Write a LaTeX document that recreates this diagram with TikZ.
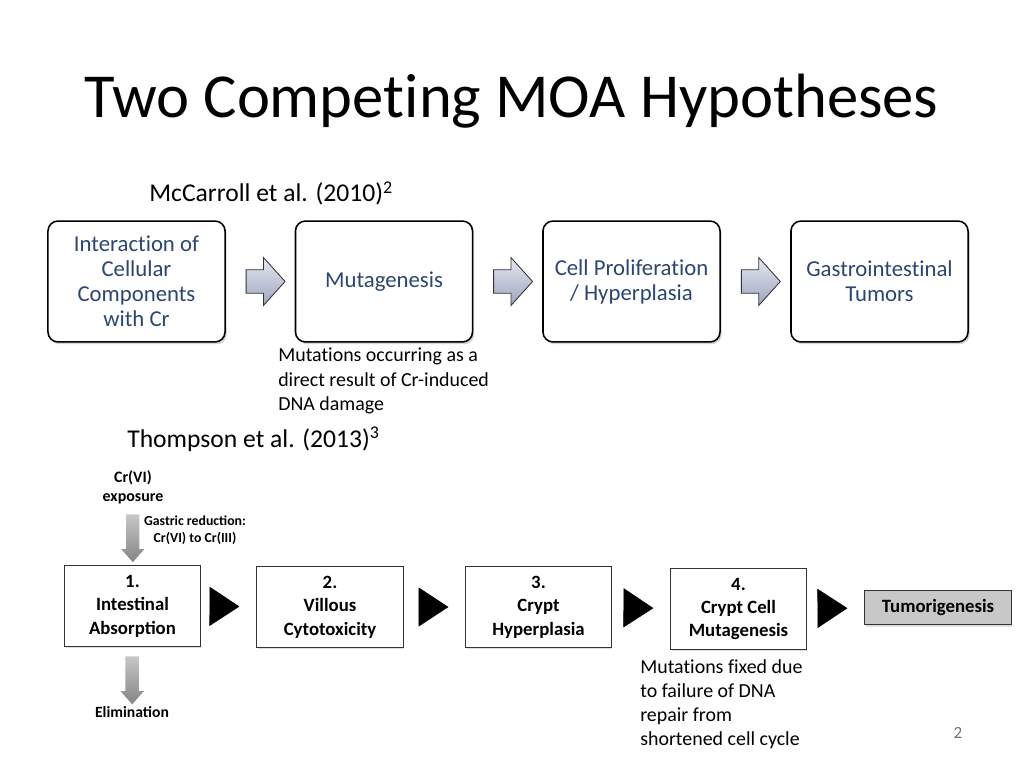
\documentclass[tikz,border=0pt]{standalone}
\usepackage{fontspec}
\setmainfont{Carlito}[Ligatures=NoCommon]
\newfontfamily\stepfont{Carlito}
\usetikzlibrary{shapes.arrows,shadows,arrows.meta}
\definecolor{boxblue}{RGB}{44,70,112}
\definecolor{arrowtop}{RGB}{228,231,242}
\definecolor{arrowbot}{RGB}{158,166,190}
\definecolor{tumorgrey}{RGB}{200,200,200}

\begin{document}
\begin{tikzpicture}[x=0.703125pt, y=-0.703125pt,
    topbox/.style={draw, rounded corners=7pt, line width=1.1pt, fill=white,
      minimum width=124.5pt, minimum height=85pt, align=center, text=boxblue,
      font=\fontsize{16}{17.6}\selectfont,
      drop shadow={shadow xshift=1.2pt, shadow yshift=-1.6pt, opacity=0.35}},
    stepbox/.style={draw=black!80, line width=0.7pt, fill=white, minimum height=57pt,
      align=center, font=\stepfont\fontsize{13.2}{16.5}\selectfont\bfseries,
      drop shadow={shadow xshift=1pt, shadow yshift=-1.2pt, opacity=0.25}},
    blockarrow/.style={single arrow, draw=black!80, line width=0.6pt,
      top color=arrowtop, bottom color=arrowbot, minimum height=27.4pt,
      minimum width=33pt, single arrow head extend=8.5pt,
      single arrow tip angle=96, inner xsep=0pt, inner ysep=8pt},
    greyarrow/.style={single arrow, shape border rotate=270, draw=none,
      top color=black!22, bottom color=black!48, minimum height=33.7pt,
      minimum width=16pt, single arrow head extend=3.5pt,
      single arrow tip angle=83, inner sep=4.5pt},
    stepto/.style={-{Triangle[length=21pt,width=27.5pt]}, shorten <=15pt, shorten >=12pt},
    note/.style={anchor=north west, align=left, inner sep=0pt, font=\fontsize{14}{16.9}\selectfont},
    label/.style={inner sep=0pt, align=center},
  ]
  \path[use as bounding box] (0,0) rectangle (1024,768);

  % Title
  \node[anchor=base, inner sep=0pt, font=\fontsize{44}{50}\selectfont] (title) at (511.5,118) {Two Competing MOA Hypotheses};

  % First hypothesis
  \node[anchor=base west, inner sep=0pt, font=\fontsize{18}{20}\selectfont] (mccarroll) at (149,202) {McCarroll et al. (2010)\textsuperscript{2}};
  \node[topbox] (cells) at (136.5,281.5) {Interaction of\\Cellular\\Components\\with Cr};
  \node[topbox] (muta) at (384,281.5) {Mutagenesis};
  \node[topbox] (prolif) at (631.5,281.5) {Cell Proliferation\\/ Hyperplasia};
  \node[topbox] (tumors) at (879.5,281.5) {Gastrointestinal\\Tumors};
  \node[note] (mutanote) at (278,348) {Mutations occurring as a\\direct result of Cr-induced\\DNA damage};

  \path (cells) -- node[blockarrow]{} (muta);
  \path (muta) -- node[blockarrow]{} (prolif);
  \path (prolif) -- node[blockarrow]{} (tumors);

  % Second hypothesis
  \node[anchor=base west, inner sep=0pt, font=\fontsize{18}{20}\selectfont] (thompson) at (127,447) {Thompson et al. (2013)\textsuperscript{3}};
  \node[label, font=\stepfont\fontsize{11.2}{13.4}\selectfont\bfseries] (expo) at (133,487) {Cr(VI)\\exposure};
  \node[label, font=\stepfont\fontsize{9.7}{12}\selectfont\bfseries] (gastric) at (195,530.5) {Gastric reduction:\\Cr(VI) to Cr(III)};
  \node[stepbox, minimum width=95pt] (absorb) at (132.5,606) {1.\\Intestinal\\Absorption};
  \node[label, font=\stepfont\fontsize{11}{13}\selectfont\bfseries] (elim) at (132,712) {Elimination};
  \node[stepbox, minimum width=102.7pt] (villous) at (330,607) {2.\\Villous\\Cytotoxicity};
  \node[stepbox, minimum width=102pt] (crypt) at (538.5,607) {3.\\Crypt\\Hyperplasia};
  \node[stepbox, minimum width=95pt] (cryptmut) at (738.5,609) {4.\\Crypt Cell\\Mutagenesis};
  \node[stepbox, fill=tumorgrey, minimum width=102.7pt, minimum height=24.6pt] (tumori) at (938,607.5) {Tumorigenesis};
  \node[note] (fixnote) at (640,659.5) {Mutations fixed due\\to failure of DNA\\repair from\\shortened cell cycle};

  \path (expo) -- node[greyarrow]{} (absorb);
  \path (absorb) -- node[greyarrow]{} (elim);
  \draw[stepto] (absorb) -- (villous);
  \draw[stepto] (villous) -- (crypt);
  \draw[stepto] (crypt) -- (cryptmut);
  \draw[stepto] (cryptmut) -- (tumori);

  % Slide number
  \node[inner sep=0pt, text=black!55, font=\fontsize{12}{14}\selectfont] (pagenum) at (958,733) {2};
\end{tikzpicture}
\end{document}
